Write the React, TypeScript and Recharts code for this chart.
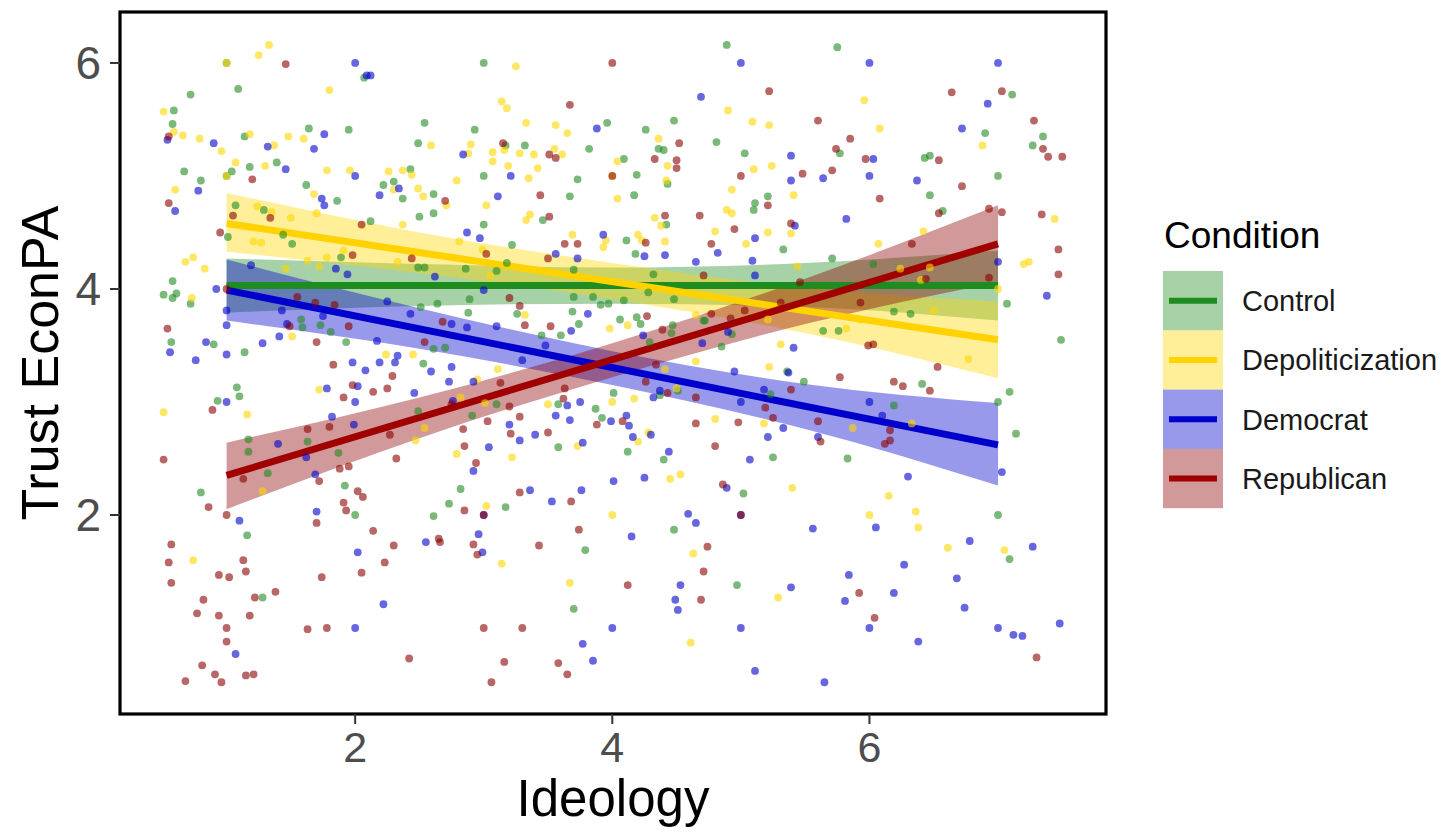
import React from 'react';
import { ComposedChart, Scatter, Line, Area, XAxis, YAxis, Customized } from 'recharts';

type P = [number, number];

const conditions = ['Control', 'Depoliticization', 'Democrat', 'Republican'];
const xTicks = [2, 4, 6];
const yTicks = [2, 4, 6];

const controlPts: P[] = [
  [1,6],[2.07,5.87],[0.72,5.72],[1.09,5.77],[0.59,5.58],[0.58,5.46],[1.14,5.35],[1.64,5.42],[1.95,5.41],[1.04,5.04],[1.18,5.08],[1.39,5.12],[0.67,5.04],[0.8,4.96],[1.62,4.92],[1.86,4.78],[1.07,4.74],[1.29,4.7],[1.01,4.46],[1.44,4.48],[1.51,4.4],[0.58,4.07],[0.51,3.95],[0.58,3.92],[0.61,3.96],[0.72,3.87],[1.89,4.28],[1.58,3.73],[1.59,3.66],[1.73,3.68],[1.81,3.62],[1.93,3.53],[0.57,3.53],[0.9,3.51],[1.14,3.44],[1,5],
  [1.08,3.13],[1.1,3.05],[0.93,3.01],[1.17,2.67],[1.17,2.56],[1.63,2.65],[1.87,2.55],[1.32,2.37],[0.8,2.2],[1.92,2.26],[1.16,1.82],[2,2],[1.28,1.27],
  [3,6],[2.54,5.47],[2.93,5.41],[3.96,5.47],[2.49,5.29],[3.17,5.27],[3.32,5.27],[3.82,5.24],[3,5],[3.73,4.97],[2.43,5.06],[2.22,4.92],[2.3,4.95],[2.37,4.8],[2.61,4.84],[2.5,4.64],[2.61,4.67],[3.67,4.82],[3.46,4.61],[2.12,4.6],[3,4.57],[3.22,4.39],[2.49,4.19],[2.54,4.19],[2.86,4.18],[3.18,4.23],[3.1,4.16],[3.7,4.17],[2.89,3.91],[3.7,3.93],[3.85,3.93],[3.91,3.86],[3.97,3.87],[2.51,3.84],[2.64,3.87],[2.88,3.79],[3.26,3.78],[3.69,3.8],[3.74,3.69],[2.61,3.47],[2.7,3.48],[3.45,3.59],[3.6,3.59],
  [2.53,3.34],[2.49,2.92],[2.91,2.88],[3.1,2.98],[3.58,2.98],[3.87,2.94],[3.92,2.86],[4.01,3.08],[3.58,2.6],[2.82,2.23],[2.73,2.1],[3.17,2.07],[2.61,1.99],[3.79,1.69],[3.7,1.17],
  [4.89,6.16],[5.75,6.14],[4.48,5.49],[4.26,5.41],[4.36,5.24],[4.4,5.23],[4.81,5.3],[4.09,5.15],[4.19,5.01],[4.43,4.93],[5.03,5.2],[5.77,5.2],[4.17,4.83],[5.21,4.82],[5.11,4.76],[5.1,4.7],[4.42,4.57],[4.11,4.43],[5.33,4.35],[4.18,4.31],[5.71,4.27],[4.32,4.13],[4.48,3.91],[4.09,3.9],[4.28,3.97],[4.06,3.73],[4.71,3.72],[4.19,3.75],[4.22,3.69],[4.47,3.68],[4.46,3.61],[4.72,3.72],[4.93,3.6],[4.29,3.53],[4.85,3.49],[5.64,3.63],[5.76,3.63],
  [7.11,5.72],[6.9,5.38],[7.35,5.35],[7.27,5.27],[6.43,5.16],[6.47,5.18],[7,5],[6.47,4.83],[6.57,4.69],[6.03,4.22],[7.07,3.87],[6.19,3.8],[6.32,3.78],[7.49,3.55],
  [5.36,3.27],[5.49,3.18],[4.37,3.06],[4.51,3.1],[5.23,3.07],[4.12,2.56],[4.4,2.49],[5.25,2.51],[5.83,2.5],[5.02,2.19],[4.48,1.87],[4.97,1.38],
  [6.41,3.16],[7.09,3.09],[7,3],[6.19,2.97],[7.14,2.72],[7,2],[7.09,1.61],
];

const depolPts: P[] = [
  [1.33,6.16],[1.25,6.07],[1,6],[1.8,5.76],[0.51,5.57],[0.59,5.39],[0.66,5.36],[0.79,5.33],[0.96,5.22],[1.18,5.37],[1.37,5.27],[1.48,5.35],[1.6,5.33],[1.07,5.12],[1,5],[1.3,5.09],[0.6,4.88],[1.78,5.05],[1.96,5.05],[1.68,4.84],[1.7,4.67],[1.24,4.73],[1.35,4.68],[1.5,4.63],[1.21,4.42],[1.27,4.41],[0.68,4.24],[0.74,4.28],[0.83,4.18],[0.73,3.92],[1.46,4.18],[1.63,4.25],[1.72,4.2],[1.78,4.28],[1.91,4.34],[1.51,3.58],
  [0.51,2.91],[1.16,2.89],[1.72,3.11],[1.28,2.21],[0.74,1.6],
  [3.25,5.97],[3.14,5.66],[3.18,5.6],[3.33,5.47],[3.56,5.45],[3.65,5.38],[2.59,5.27],[2.9,5.28],[2.88,5.2],[3.07,5.21],[3.16,5.23],[3.07,5.13],[3.28,5.2],[3.39,5.19],[3.55,5.24],[3.61,5.19],[4.04,5.13],[3.19,5.09],[3.42,5.07],[3.35,4.98],[4,5],[2.26,5.04],[2.37,5.05],[2.44,5.01],[2.3,4.88],[2.49,4.89],[2.53,4.82],[2.71,4.74],[2.79,4.96],[3.02,4.74],[4.04,4.8],[3.36,4.66],[3.33,4.61],[2.37,4.57],[2.81,4.42],[3.69,4.48],[3.93,4.37],[3.95,4.43],[2.99,4.35],[2.33,4.24],[3.05,4.12],[3.32,3.77],[3.98,3.65],[2.24,3.42],[2.45,3.42],
  [3.11,3.29],[2.95,3.2],[2.82,3.04],[3.01,2.99],[2.54,2.77],[2.47,2.66],[3.5,2.98],[4,3],[3.73,2.61],[2.79,2.54],[3.22,2.51],[3.02,2.08],[4,2],[3.14,1.57],[3.67,1.4],
  [5.96,5.67],[4.9,5.58],[5.09,5.48],[5.22,5.45],[4.36,5.33],[4.43,5.09],[4.42,4.96],[5.1,5.06],[5.24,5.09],[4.93,4.88],[5.41,4.83],[4.89,4.7],[4.93,4.67],[4.33,4.63],[4.38,4.56],[4.8,4.51],[5.21,4.5],[5.39,4.49],[4.2,4.48],[4.23,4.43],[4.41,4.42],[5.04,4.4],[5.44,4.2],[4.65,3.77],[5.21,3.73],[4.12,3.68],[5.31,3.51],[5.82,3.65],[5.93,3.73],
  [6.08,5.42],[6.88,5.27],[7.44,4.62],[6.42,4.51],[6.07,4.4],[7.2,4.22],[7.24,4.24],[6.24,4.18],[6.47,4.19],[6.4,4.08],[7,4],[6.5,3.81],[6.77,3.38],
  [4.65,3.36],[5.22,3.31],[4.41,3.29],[4.5,3.12],[5.18,2.81],[5.87,2.77],[4.17,3.03],[4.8,2.85],[4.2,2.65],[4.28,2.73],[4.45,2.32],[4.53,2.36],[5.4,2.24],[6,2],[4.63,1.66],[5.29,1.27],[4.61,0.87],
  [6.33,2.81],[6.15,2.17],[6.36,2.03],[6.38,1.89],[6.61,1.71],[7.05,1.69],
];

const democratPts: P[] = [
  [2,6],[2.09,5.89],[0.54,5.32],[0.9,5.29],[1.32,5.26],[1.76,5.37],[1.68,5.24],[1.46,5.06],[0.78,4.87],[0.6,4.69],[2,5],[1.74,4.8],[1.76,4.74],[0.92,4],[1.19,4.21],[1.85,4.18],[1.94,4.13],[1,3.81],[1,3.68],[1.43,3.81],[1.47,3.69],[1.75,3.76],[1.41,3.58],[1.28,3.52],[0.56,3.44],[0.84,3.53],[1,3.42],[0.76,3.37],
  [1.98,3.35],[2.08,3.28],[1,3],[1.78,3.12],[2.02,3.14],[2,3],[1.82,2.87],[1.99,2.8],[1.4,2.63],[1.62,2.51],[1.69,2.36],[1.1,1.95],[1.7,2.03],[2.02,1.67],[2,1],[1.07,0.77],
  [2.12,5.89],[3.88,5.42],[2.84,5.19],[3.21,5],[2.19,4.83],[2.34,4.89],[3.11,4.82],[2.87,4.5],[2.97,4.45],[3.93,4.48],[3.56,4.31],[3.73,4.27],[2.62,4.11],[3,3.99],[2.25,3.89],[2.43,3.78],[3.81,3.78],[2.75,3.69],[3.1,3.67],[2.87,3.66],[2.17,3.54],[3.68,3.63],[3.48,3.5],[2.33,3.41],
  [2.19,3.35],[2.31,3.35],[2.75,3.31],[2.59,3.27],[2.46,3.08],[2.73,3.18],[2.92,3.18],[3.3,3.37],[2.76,3.01],[3.2,2.8],[3.28,2.66],[3.4,2.71],[3.65,2.97],[3.75,3],[3.56,2.88],[3.67,2.84],[3.99,2.83],[3.77,2.64],[3.04,2.6],[2.92,2.39],[4.01,2.3],[3.36,2.22],[3.76,2.22],[3.53,2.12],[3,2],[2.96,1.83],[2.55,1.76],[2.99,1.67],[2.22,1.21],[4,1],[3.77,0.86],[3.85,0.71],
  [5,6],[6,6],[4.69,5.7],[5.39,5.18],[5.39,4.96],[5.64,4.98],[6,5],[5.42,4.56],[5.82,4.62],[5.11,4.45],[4.25,4.29],[4.41,4.3],[4.65,4.24],[4.82,4.32],[5.09,4.25],[5.11,4.12],[4.24,3.59],[4.7,3.52],[4.9,3.62],[5.41,3.48],
  [7,6],[6.92,5.64],[6.72,5.42],[6.03,5.15],[6.37,4.96],[7,4.24],[7.38,3.94],
  [4.95,3.27],[5.37,3.26],[4.37,3.1],[4.32,3.04],[5.18,3.11],[5,3],[6,3],[4.11,2.88],[4.13,2.79],[5.33,2.77],[4.16,2.69],[4.3,2.71],[5.21,2.69],[5.6,2.69],[4.44,2.56],[5.07,2.49],[4.25,2.33],[4.89,2.24],[5,2],[4.59,2.01],[4.65,1.93],[4.15,1.81],[5.56,1.88],[4.53,1.38],[5.39,1.36],[5.84,1.47],[4.49,1.25],[4.51,1.16],[5.81,1.24],[5,1],[6,1],[5.11,0.62],[5.65,0.52],
  [6.1,2.88],[7.03,2.38],[6.3,2.34],[6.05,1.89],[6.78,1.77],[7.27,1.72],[6.27,1.56],[6.68,1.44],[6.19,1.31],[6.74,1.18],[7,1],[7.12,0.94],[7.19,0.93],[7.48,1.04],[6.38,0.88],
];

const republicanPts: P[] = [
  [1.46,5.99],[1.2,4.97],[0.55,5.35],[0.55,4.76],[1.05,4.65],[1.34,4.63],[0.95,4.5],[2.05,4.57],[1.98,4.3],[1,4],[1.49,3.67],[1.7,3.53],[1.95,3.67],[0.54,3.65],[1.55,3.93],[1.69,3.88],[1.84,3.86],
  [1.83,3.33],[0.89,2.93],[1.91,3.04],[1.98,3.15],[1.63,2.76],[1.8,2.78],[1.13,2.32],[1.72,2.3],[1.88,2.41],[1.95,2.43],[0.51,2.49],[2.02,2.21],[2.06,2.16],[0.86,2.07],[1,2],[1.7,1.93],[1.91,2.11],[1.93,2.04],[0.57,1.74],[0.55,1.58],[0.57,1.4],[0.94,1.47],[1.02,1.45],[1.13,1.6],[1.15,1.5],[1.74,1.45],[2.05,1.49],[1.38,1.32],[1.22,1.27],[0.82,1.25],[0.77,1.13],[0.94,1.11],[1.18,1.11],[1,1],[1,0.88],[1.63,0.99],[1.78,1],[0.81,0.67],[0.91,0.59],[0.96,0.52],[0.68,0.53],[1.15,0.58],[1.21,0.59],
  [4,6],[3.67,5.63],[3.15,5.29],[3.51,5.19],[3.56,5.16],[4,5],[2.7,4.78],[3.44,4.83],[3.51,4.64],[3.63,4.4],[3.73,4.4],[3.02,4.31],[2.44,4.27],[3.5,4.27],[3.2,3.92],[3.28,3.85],[3.32,3.68],[3.52,3.67],[2.68,3.71],[2.54,3.53],
  [2.29,3.23],[2.25,3.12],[2.14,3.09],[3.13,3.17],[2.75,2.98],[3.2,2.96],[3.03,2.83],[3.28,2.87],[2.27,2.71],[2.84,2.76],[3.21,2.72],[3.5,2.73],[3.63,3.12],[3.62,3.03],[3.88,2.8],[2.85,2.61],[2.32,2.5],[2.94,2.46],[3.28,2.2],[2.85,2.04],[3.68,2.12],[3,2],[2.14,1.86],[3.74,1.87],[2.65,1.79],[2.66,1.76],[2.3,1.73],[2.92,1.74],[3.43,1.73],[2.95,1.65],[2.23,1.58],[3,1],[3.3,1],[2.42,0.73],[3.16,0.7],[3.58,0.69],[3.65,0.59],[3.06,0.52],
  [5.22,5.75],[5.6,5.49],[5.85,5.33],[4.52,5.29],[4.33,5.15],[4.5,5.14],[4.5,5.07],[5,5],[5.48,5.02],[5.71,5.05],[5.74,5.24],[5.97,5.15],[5.21,4.74],[4.68,4.65],[4.41,4.65],[5.39,4.58],[4.95,4.53],[4.26,4.41],[4.77,4.4],[4.71,4.12],[5.46,4.06],[4.77,3.78],[4.92,3.74],[5.03,3.81],[5.31,3.88],[4.27,3.76],[4.39,3.64],[5.93,3.88],[5.99,3.5],
  [6.64,5.74],[7.03,5.75],[7.28,5.49],[7.35,5.24],[7.39,5.17],[7.5,5.17],[6.54,5.14],[6.72,4.91],[6.08,4.8],[6.54,4.67],[6.93,4.71],[7.03,4.68],[7.34,4.66],[6.33,4.4],[7.47,4.35],[7.47,4.13],[6.93,4.1],[6.44,4.09],[6.03,3.51],
  [5.77,3.22],[4.34,3.33],[4.26,3.18],[4.43,3.08],[4.65,3.04],[5.39,3.11],[5.19,2.95],[5.25,2.86],[5.6,2.83],[4.08,2.83],[4.65,2.81],[4.98,2.82],[5.62,2.65],[4.8,2.61],[4.86,2.27],[5,2],[4.74,1.72],[4.71,1.5],[4.12,1.38],[5.92,1.31],[4.69,1.25],
  [6.53,3.31],[6.19,3.18],[6.26,3.14],[6.47,3.1],[6.16,2.75],[6.16,2.66],[6.12,2.63],[6.04,1.09],[7.3,0.74],
];

// Fitted lines (endpoints at x = 1 and x = 7)
const fitX = [1, 7];
const controlFit = [4.03, 4.03];
const depolFit = [4.58, 3.55];
const democratFit = [3.99, 2.62];
const republicanFit = [2.35, 4.40];

// Confidence bands
const bandX = [1, 2.5, 4, 5.5, 7];
const controlLo = [3.79, 3.85, 3.87, 3.84, 3.72];
const controlHi = [4.27, 4.22, 4.19, 4.23, 4.34];
const depolLo = [4.33, 4.14, 3.91, 3.61, 3.21];
const depolHi = [4.85, 4.50, 4.23, 4.01, 3.89];
const democratLo = [3.72, 3.47, 3.15, 2.76, 2.26];
const democratHi = [4.26, 3.83, 3.45, 3.16, 2.99];
const republicanLo = [2.05, 2.68, 3.22, 3.69, 4.06];
const republicanHi = [2.64, 3.04, 3.52, 4.09, 4.74];

const pointColors = ['#228B22', '#FFD700', '#0000CD', '#8B0000'];
const lineColors = ['#1E8C1E', '#FFD200', '#0000CD', '#A00000'];

const FONT = '"Liberation Sans", Arial, Helvetica, sans-serif';

const toPts = (arr: P[]) => arr.map(([x, y]) => ({ x, y }));
const toFit = (ys: number[]) => fitX.map((x, i) => ({ x, y: ys[i] }));
const toBand = (lo: number[], hi: number[]) => bandX.map((x, i) => ({ x, band: [lo[i], hi[i]] }));

const groups = [
  { name: conditions[0], pts: toPts(controlPts), fit: toFit(controlFit), band: toBand(controlLo, controlHi) },
  { name: conditions[1], pts: toPts(depolPts), fit: toFit(depolFit), band: toBand(depolLo, depolHi) },
  { name: conditions[2], pts: toPts(democratPts), fit: toFit(democratFit), band: toBand(democratLo, democratHi) },
  { name: conditions[3], pts: toPts(republicanPts), fit: toFit(republicanFit), band: toBand(republicanLo, republicanHi) },
];

const W = 1433;
const H = 823;
const PLOT = { left: 112, top: 4, width: 986, height: 702 };

const makeDot = (color: string) => (props: any) => {
  const { cx, cy } = props;
  if (cx == null || cy == null) return <g />;
  return <circle cx={cx} cy={cy} r={3.9} fill={color} fillOpacity={0.6} />;
};

const Frame = () => (
  <g>
    <rect x={PLOT.left} y={PLOT.top} width={PLOT.width} height={PLOT.height} fill="none" stroke="#000" strokeWidth={3.2} />
    <text x={PLOT.left + PLOT.width / 2} y={808} textAnchor="middle" fontFamily={FONT} fontSize={51} fill="#000">Ideology</text>
    <text x={50} y={PLOT.top + PLOT.height / 2} textAnchor="middle" fontFamily={FONT} fontSize={52} fill="#000" transform={`rotate(-90 50 ${PLOT.top + PLOT.height / 2})`}>Trust EconPA</text>
  </g>
);

const LegendBlock = () => {
  const x0 = 1155;
  const y0 = 263;
  const kh = 59.3;
  const kw = 60;
  return (
    <g>
      <text x={x0 + 1} y={240} fontFamily={FONT} fontSize={37} fill="#000">Condition</text>
      {conditions.map((c, i) => (
        <g key={c}>
          <rect x={x0} y={y0 + i * kh} width={kw} height={kh} fill={pointColors[i]} fillOpacity={0.4} />
          <line x1={x0 + 6} x2={x0 + kw - 6} y1={y0 + i * kh + kh / 2} y2={y0 + i * kh + kh / 2} stroke={lineColors[i]} strokeWidth={6} />
          <text x={x0 + 79} y={y0 + i * kh + kh / 2} dy="0.36em" fontFamily={FONT} fontSize={29} fill="#1a1a1a">{c}</text>
        </g>
      ))}
    </g>
  );
};

export default function App() {
  return (
    <div style={{ width: W, height: H }}>
      <ComposedChart width={W} height={H} margin={{ top: 4, left: 12, right: W - PLOT.left - PLOT.width, bottom: H - PLOT.top - PLOT.height - 60 }}>
        <XAxis
          type="number"
          dataKey="x"
          domain={[0.171, 7.84]}
          ticks={xTicks}
          allowDataOverflow
          height={60}
          axisLine={false}
          tickLine={{ stroke: '#333', strokeWidth: 2 }}
          tickSize={10}
          tickMargin={7}
          tick={{ fill: '#4d4d4d', fontSize: 43, fontFamily: FONT }}
        />
        <YAxis
          type="number"
          dataKey="y"
          domain={[0.239, 6.451]}
          ticks={yTicks}
          allowDataOverflow
          width={100}
          axisLine={false}
          tickLine={{ stroke: '#333', strokeWidth: 2 }}
          tickSize={10}
          tickMargin={9}
          tick={{ fill: '#4d4d4d', fontSize: 46, fontFamily: FONT }}
        />
        {groups.map((g, i) => (
          <Scatter key={'s' + g.name} name={g.name} data={g.pts} dataKey="y" shape={makeDot(pointColors[i])} isAnimationActive={false} />
        ))}
        {groups.flatMap((g, i) => [
          <Area key={'a' + g.name} data={g.band} dataKey="band" type="monotone" stroke="none" fill={pointColors[i]} fillOpacity={0.4} isAnimationActive={false} dot={false} activeDot={false} />,
          <Line key={'l' + g.name} data={g.fit} dataKey="y" type="linear" stroke={lineColors[i]} strokeWidth={7} dot={false} activeDot={false} isAnimationActive={false} />,
        ])}
        <Customized component={Frame} />
        <Customized component={LegendBlock} />
      </ComposedChart>
    </div>
  );
}
